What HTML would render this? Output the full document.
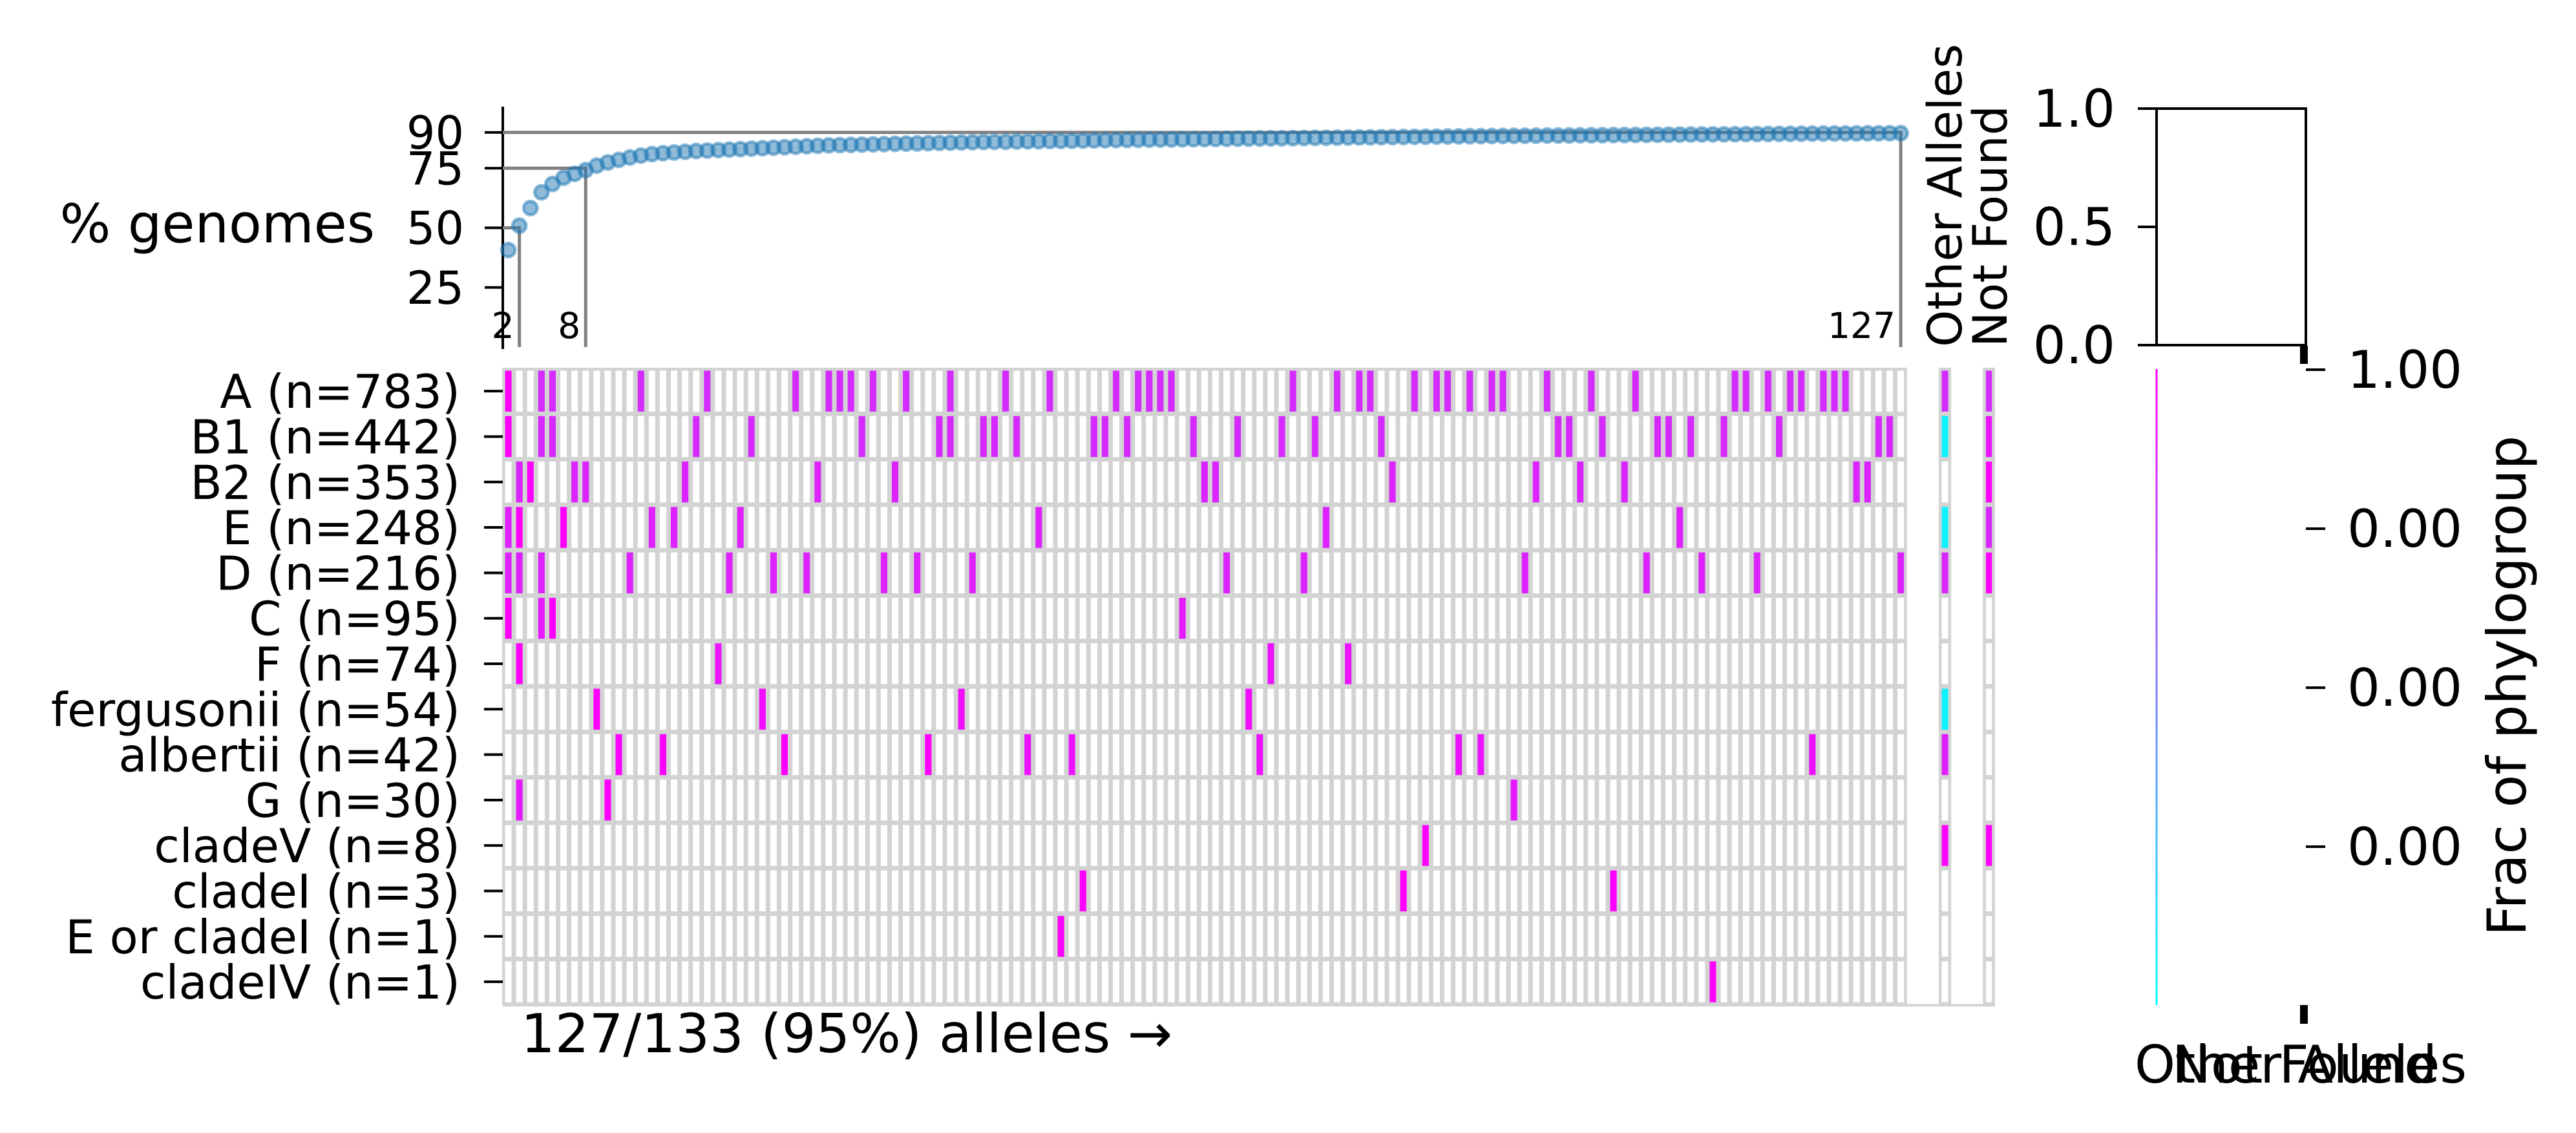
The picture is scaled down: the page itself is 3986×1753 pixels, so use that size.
<!DOCTYPE html>
<html><head><meta charset="utf-8"><style>
html,body{margin:0;padding:0;background:#fff;}
svg{display:block;font-family:"DejaVu Sans","Liberation Sans",sans-serif;}
</style></head><body>
<svg id="fig" width="3986" height="1753" viewBox="0 0 3986 1753" xmlns="http://www.w3.org/2000/svg">
<g id="topPanel"></g>
<g id="heat"></g>
<g id="side"></g>
</svg>
<script>
const pctValues = [40.7,50.9,58.3,64.9,68.4,71.0,72.6,74.2,76.1,77.4,78.5,79.5,80.3,80.9,
81.3,81.6,81.9,82.2,82.4,82.6,82.8,83.0,83.2,83.4,83.6,83.8,84.0,84.2,84.4,84.6,
84.7,84.8,84.9,85.0,85.1,85.2,85.3,85.4,85.5,85.6,85.7,85.8,85.9,86.0,86.05,86.1,86.2,86.25,86.3,86.4,86.45,86.5,86.6,86.65,86.7,86.8,86.85,86.9,86.95,87.0,
87.05,87.1,87.15,87.2,87.25,87.3,87.35,87.4,87.45,87.5,87.55,87.6,87.65,87.7,87.75,87.8,87.85,87.9,87.95,88.0,88.05,88.1,88.15,88.2,88.25,88.3,88.35,88.4,88.45,88.5,
88.55,88.6,88.62,88.65,88.7,88.72,88.75,88.8,88.82,88.85,88.9,88.92,88.95,89.0,89.02,89.05,89.1,89.12,89.15,89.2,89.22,89.25,89.3,89.32,89.35,89.4,89.42,89.45,89.5,89.52,89.55,89.58,89.6,89.62,89.65,89.68,89.7];
const pctTicks = [25,50,75,90];
const thresholds = [50,75,90];
const thresholdIdx = [1,7,126];
const thresholdLabels = ["2","8","127"];
const rowLabels = ["A (n=783)","B1 (n=442)","B2 (n=353)","E (n=248)","D (n=216)","C (n=95)","F (n=74)","fergusonii (n=54)","albertii (n=42)","G (n=30)","cladeV (n=8)","cladeI (n=3)","E or cladeI (n=1)","cladeIV (n=1)"];
const rowCols = [
 [0,3,4,12,18,26,29,30,31,33,36,40,45,49,55,57,58,59,60,71,75,77,78,82,84,85,87,89,90,94,98,102,111,112,114,116,117,119,120,121],
 [0,3,4,17,22,32,39,40,43,44,46,53,54,56,62,66,70,73,79,95,96,99,104,105,107,110,115,124,125],
 [1,2,6,7,16,28,35,63,64,80,93,97,101,122,123],
 [0,1,5,13,15,21,48,74,106],
 [0,1,3,11,20,24,27,34,37,42,65,72,92,103,108,113,126],
 [0,3,4,61],
 [1,19,69,76],
 [8,23,41,67],
 [10,14,25,38,47,51,68,86,88,118],
 [1,9,91],
 [83],
 [52,81,100],
 [50],
 [109]];
const rowFrac = [0.83,0.84,0.86,0.87,0.87,0.9,0.92,0.95,0.93,0.9,1,1,1,1];
const brightCells = ["0-0","1-0","2-2","3-1","3-5","5-0","5-4","6-1","7-8","8-10","8-14","8-25","8-38","9-9","11-52","11-81","11-100","12-50","13-109","10-83"];
const otherFrac = [0.83,0.05,null,0.05,0.85,null,null,0.05,0.88,null,1,null,null,null];
const notFoundFrac = [0.83,0.92,1,0.85,1,null,null,null,null,null,1,null,null,null];
const boxTicks = [0,0.5,1];
const boxTickLabels = ["0.0","0.5","1.0"];
const rightTickLabels = ["1.00","0.00","0.00","0.00"];

const NS="http://www.w3.org/2000/svg";
function mk(tag, parent, attrs){const e=document.createElementNS(NS,tag);for(const k in attrs)e.setAttribute(k,attrs[k]);parent.appendChild(e);return e;}
const X0=778, CW=17.1, Y0=570, RH=70.3;
function xCol(i){return X0+CW*i;}
function yRow(r){return Y0+RH*r;}
function yPct(v){return 537-3.69*v;}
function cool(v){return "rgb("+Math.round(255*v)+","+Math.round(255*(1-v))+",255)";}

const topG=document.getElementById('topPanel');
let sp=mk('line',topG,{x1:X0,y1:165,x2:X0,y2:540,stroke:'#000','stroke-width':4});


pctTicks.forEach(v=>{
  const t=mk('line',topG,{x1:750,y1:yPct(v),x2:X0,y2:yPct(v),stroke:'#000','stroke-width':4});
  
  
  const l=mk('text',topG,{x:718,y:yPct(v)+25,'font-size':70,'text-anchor':'end'});
  l.textContent=v;
  
  
});
let yl=mk('text',topG,{x:580,y:375,'font-size':83,'text-anchor':'end'});
yl.textContent='% genomes';


thresholds.forEach((v,k)=>{
  const xc=xCol(thresholdIdx[k]+0.5);
  const p=mk('path',topG,{d:`M${X0},${yPct(v)}H${xc}V537`,fill:'none',stroke:'#808080','stroke-width':5});
  
  
  const l=mk('text',topG,{x:xc-8,y:523,'font-size':55,'text-anchor':'end'});
  l.textContent=thresholdLabels[k];
  
  
});
pctValues.forEach((v,i)=>{
  const c=mk('circle',topG,{cx:xCol(i+0.5),cy:yPct(v),r:10.5,fill:'rgba(31,119,180,0.5)',stroke:'rgba(31,119,180,0.5)','stroke-width':5});
  
  
});

const heat=document.getElementById('heat');
const nCols=pctValues.length;
for(let r=0;r<rowLabels.length;r++){
  for(let c=0;c<nCols;c++){
    const on=rowCols[r].includes(c);
    const v=brightCells.includes(r+'-'+c)?1:rowFrac[r];
    const cell=mk('rect',heat,{x:xCol(c)+1.2,y:yRow(r)+1.2,width:CW-2.4,height:RH-2.4,fill:on?cool(v):'#fff',stroke:'#d3d3d3','stroke-width':4.6});
    
    
  }
  [[130,otherFrac[r],'other-alleles-cell'],[134,notFoundFrac[r],'not-found-cell']].forEach(([ci,fv,nm])=>{
    const w = ci===134 ? 14 : CW-2.4;
    const cell=mk('rect',heat,{x:xCol(ci)+1.2,y:yRow(r)+1.2,width:w,height:RH-2.4,fill:fv===null?'#fff':cool(fv),stroke:'#d3d3d3','stroke-width':4.6});
    
    
  });
  const yc=yRow(r+0.5);
  const t=mk('line',heat,{x1:749,y1:yc,x2:X0,y2:yc,stroke:'#000','stroke-width':4});
  
  
  const l=mk('text',heat,{x:712,y:yc+26,'font-size':72,'text-anchor':'end'});
  l.textContent=rowLabels[r];
  
  
}
let bl=mk('line',heat,{x1:X0,y1:yRow(14)+1,x2:3087,y2:yRow(14)+1,stroke:'#d3d3d3','stroke-width':4});


let xl=mk('text',heat,{x:806,y:1628,'font-size':83});
xl.textContent='127/133 (95%) alleles \u2192';


let oa=mk('text',heat,{transform:'translate(3035,537) rotate(-90)','font-size':73});
oa.textContent='Other Alleles';


let nf=mk('text',heat,{transform:'translate(3105,537) rotate(-90)','font-size':73});
nf.textContent='Not Found';



const side=document.getElementById('side');
const BX0=3337,BX1=3568,BY0=168,BY1=534;
function yBox(v){return BY1-(BY1-BY0)*v;}
let box=mk('rect',side,{x:BX0,y:BY0,width:BX1-BX0,height:BY1-BY0,fill:'none',stroke:'#000','stroke-width':4});


boxTicks.forEach((v,k)=>{
  const t=mk('line',side,{x1:3308,y1:yBox(v),x2:BX0,y2:yBox(v),stroke:'#000','stroke-width':4});
  
  
  const l=mk('text',side,{x:3273,y:yBox(v)+28,'font-size':80,'text-anchor':'end'});
  l.textContent=boxTickLabels[k];
  
  
});
const defs=mk('defs',side,{});
const lg=mk('linearGradient',defs,{id:'cg',x1:0,y1:0,x2:0,y2:1});
mk('stop',lg,{offset:'0','stop-color':'#ff00ff'});
mk('stop',lg,{offset:'0.5','stop-color':'#8080ff'});
mk('stop',lg,{offset:'1','stop-color':'#00ffff'});
let gl=mk('rect',side,{x:BX0-1.5,y:571,width:3,height:984,fill:'url(#cg)'});


[[535,563],[1555,1584]].forEach(([a,b])=>{
  const s=mk('rect',side,{x:3559,y:a,width:12,height:b-a,fill:'#000'});
  
  
});
rightTickLabels.forEach((lab,k)=>{
  const y=572+246*k;
  const t=mk('line',side,{x1:3568,y1:y,x2:3598,y2:y,stroke:'#000','stroke-width':4});
  
  
  const l=mk('text',side,{x:3632,y:y+28,'font-size':80});
  l.textContent=lab;
  
  
});
let ft=mk('text',side,{transform:'translate(3908,1061) rotate(-90)','font-size':83,'text-anchor':'middle'});
ft.textContent='Frac of phylogroup';


let b1=mk('text',side,{x:3560,y:1675,'font-size':80,'text-anchor':'middle'});
b1.textContent='Other Alleles';


let b2=mk('text',side,{x:3566,y:1675,'font-size':80,'text-anchor':'middle'});
b2.textContent='Not Found';


</script>
</body></html>
